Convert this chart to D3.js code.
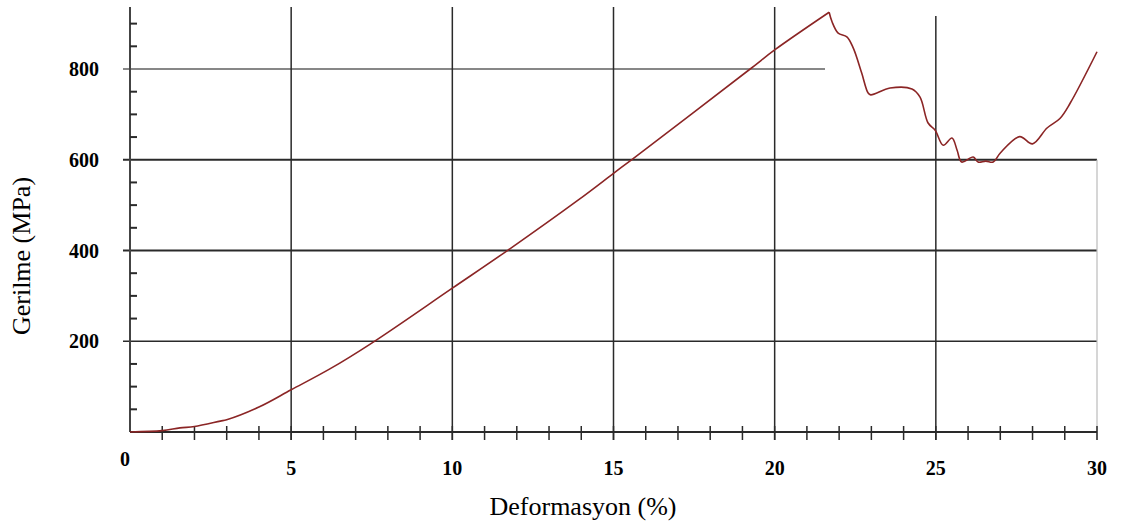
<!DOCTYPE html>
<html>
<head>
<meta charset="utf-8">
<script src="https://cdn.jsdelivr.net/npm/d3@7"></script>
<style>
    body { margin: 0; background: #fff; }
    svg { display: block; font-family: 'Liberation Serif', 'Times New Roman', serif; }
</style>
</head>
<body>
<svg id="chart" width="1126" height="525"></svg>
<script>
// strain (%) and stress (MPa), loading part up to the peak
const strainUp = [0, 1, 1.55, 2, 2.8, 3, 4, 5, 6.2, 7.5, 10, 11.73, 13.9, 15, 15.58, 19.24, 20, 21.69];
const stressUp = [0, 3, 9, 12, 24, 27, 55, 93, 139, 196, 317, 401, 511, 570, 601, 800, 842, 925];
// after the peak
const strainDown = [21.69, 21.78, 21.97, 22.24, 22.44, 22.7, 22.9, 22.98, 23.58, 24.26, 24.51, 24.76, 24.98, 25.23, 25.5, 25.66,
    25.8, 26.16, 26.31, 26.55, 26.78, 27.0, 27.6, 28.0, 28.45, 28.85, 29.17, 30.0];
const stressDown = [925, 904, 879, 871, 846, 791, 747, 743, 758, 756, 738, 681, 665, 632, 648, 621,
    595, 606, 595, 597, 595, 615, 651, 635, 670, 691, 725, 838];

const xTicks = [0, 5, 10, 15, 20, 25, 30];
const yTicks = [200, 400, 600, 800];

const svg = d3.select('#chart');
const x = d3.scaleLinear().domain([0, 30]).range([130, 1097]);
const y = d3.scaleLinear().domain([0, 800]).range([432, 69]);

const dark = '#2a2a2a';

// horizontal grid lines (the 800 line stops short like in the original)
svg.selectAll('line.hgrid')
    .data(yTicks)
    .enter()
    .append('line')
    .attr('x1', x(0) - 7)
    .attr('x2', d => d === 800 ? 825 : x(30))
    .attr('y1', d => y(d))
    .attr('y2', d => y(d))
    .style('stroke', d => d === 800 ? '#111' : dark)
    .style('stroke-width', d => d === 800 ? 1.2 : (d === 200 ? 1.6 : 2));

// vertical grid lines
svg.selectAll('line.vgrid')
    .data(xTicks.filter(d => d > 0 && d < 30))
    .enter()
    .append('line')
    .attr('x1', d => x(d))
    .attr('x2', d => x(d))
    .attr('y1', d => d === 25 ? 16 : 7)
    .attr('y2', y(0) + 8)
    .style('stroke', dark)
    .style('stroke-width', 1.5);

// faint right border
svg.append('line')
    .attr('x1', x(30)).attr('x2', x(30))
    .attr('y1', y(600)).attr('y2', y(0) + 8)
    .style('stroke', '#bbb')
    .style('stroke-width', 1.2);

// y axis line with minor ticks every 50
svg.append('line')
    .attr('x1', x(0)).attr('x2', x(0))
    .attr('y1', 7).attr('y2', y(0))
    .style('stroke', '#444')
    .style('stroke-width', 2);
svg.selectAll('line.ymin')
    .data(d3.range(50, 950, 50).filter(d => d % 200 !== 0))
    .enter()
    .append('line')
    .attr('x1', x(0))
    .attr('x2', x(0) + 7)
    .attr('y1', d => y(d))
    .attr('y2', d => y(d))
    .style('stroke', dark)
    .style('stroke-width', 2);

// x axis line with a tick at every unit
svg.append('line')
    .attr('x1', x(0)).attr('x2', x(30))
    .attr('y1', y(0)).attr('y2', y(0))
    .style('stroke', dark)
    .style('stroke-width', 2);
svg.selectAll('line.xmin')
    .data(d3.range(1, 31))
    .enter()
    .append('line')
    .attr('x1', d => x(d))
    .attr('x2', d => x(d))
    .attr('y1', y(0) - 6)
    .attr('y2', y(0) + 8)
    .style('stroke', dark)
    .style('stroke-width', 1.5);

// tick labels
svg.selectAll('text.ylab')
    .data(yTicks)
    .enter()
    .append('text')
    .attr('x', 99)
    .attr('y', d => y(d) + 7)
    .attr('text-anchor', 'end')
    .style('font-size', '20px')
    .style('font-weight', 'bold')
    .text(d => d);
svg.selectAll('text.xlab')
    .data(xTicks)
    .enter()
    .append('text')
    .attr('x', d => d === 0 ? x(d) - 5 : x(d))
    .attr('y', d => d === 0 ? 466 : 475)
    .attr('text-anchor', 'middle')
    .style('font-size', '20px')
    .style('font-weight', 'bold')
    .text(d => d);

// axis titles
svg.append('text')
    .attr('x', 583)
    .attr('y', 515)
    .attr('text-anchor', 'middle')
    .style('font-size', '26px')
    .text('Deformasyon (%)');
svg.append('text')
    .attr('transform', 'translate(30,256) rotate(-90)')
    .attr('text-anchor', 'middle')
    .style('font-size', '26px')
    .text('Gerilme (MPa)');

// the stress-strain curve, drawn in two parts so the peak stays sharp
const line = d3.line()
    .x(d => x(d[0]))
    .y(d => y(d[1]))
    .curve(d3.curveCatmullRom.alpha(0.5));
[[strainUp, stressUp], [strainDown, stressDown]].forEach(([sx, sy]) => {
    svg.append('path')
        .datum(sx.map((s, i) => [s, sy[i]]))
        .attr('d', line)
        .style('fill', 'none')
        .style('stroke', '#8b2525')
        .style('stroke-width', 1.6);
});
</script>
</body>
</html>
